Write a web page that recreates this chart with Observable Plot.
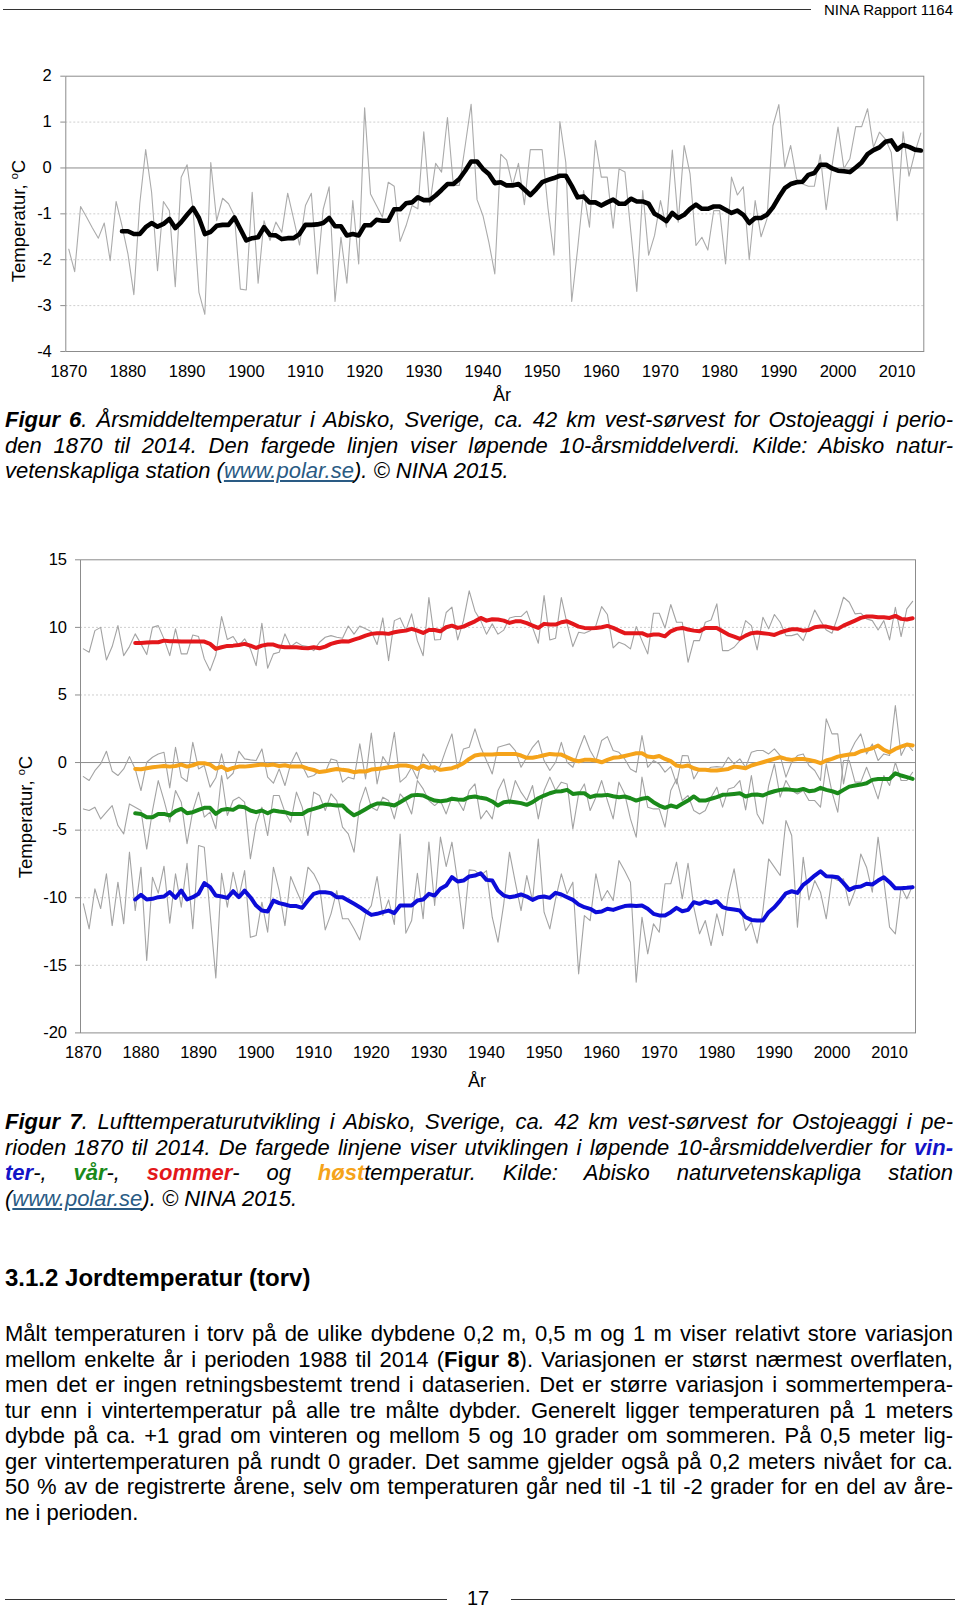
<!DOCTYPE html>
<html><head><meta charset="utf-8">
<script src="https://cdn.jsdelivr.net/npm/d3@7"></script>
<script src="https://cdn.jsdelivr.net/npm/@observablehq/plot@0.6"></script>
<style>
html,body{margin:0;padding:0;background:#fff;}
#page{position:relative;width:960px;height:1610px;overflow:hidden;background:#fff;font-family:'Liberation Sans',Arial,Helvetica,sans-serif;color:#000;}
.abs{position:absolute;}
.para{position:absolute;left:5px;width:948px;font-size:22px;line-height:25.5px;}
.para .l{text-align:justify;text-align-last:justify;height:25.5px;}
.para .l.last{text-align-last:left;}
.cap{font-style:italic;}
.lnk{color:#2a5b84;text-decoration:underline;}
.ytitle{position:absolute;white-space:nowrap;font-size:18.5px;transform:translate(-50%,-50%) rotate(-90deg);}
.ytitle sup{font-size:11px;vertical-align:7px;}
.xtitle{position:absolute;font-size:18px;transform:translate(-50%,-50%);}
svg g[aria-label="y-axis tick"] path, svg g[aria-label="y-axis"] .tick line{stroke:#8c8c8c;}
</style>
</head><body>
<div id="page">
  <div class="abs" style="left:3px;top:9px;width:808px;border-top:1.6px solid #333;"></div>
  <div class="abs" style="right:7px;top:1px;font-size:15px;line-height:17px;">NINA Rapport 1164</div>

  <div id="c1" class="abs" style="left:0;top:50px;"></div>
  <div class="ytitle" style="left:18.5px;top:221px;">Temperatur, <sup>o</sup>C</div>
  <div class="xtitle" style="left:502px;top:395px;">År</div>

  <div class="para cap" style="top:407px;">
    <div class="l"><b>Figur 6</b>. Årsmiddeltemperatur i Abisko, Sverige, ca. 42 km vest-sørvest for Ostojeaggi i perio-</div>
    <div class="l">den 1870 til 2014. Den fargede linjen viser løpende 10-årsmiddelverdi. Kilde: Abisko natur-</div>
    <div class="l last">vetenskapliga station (<span class="lnk">www.polar.se</span>). © NINA 2015.</div>
  </div>

  <div id="c2" class="abs" style="left:0;top:530px;"></div>
  <div class="ytitle" style="left:26px;top:817px;">Temperatur, <sup>o</sup>C</div>
  <div class="xtitle" style="left:477px;top:1081px;">År</div>

  <div class="para cap" style="top:1109px;">
    <div class="l"><b>Figur 7</b>. Lufttemperaturutvikling i Abisko, Sverige, ca. 42 km vest-sørvest for Ostojeaggi i pe-</div>
    <div class="l">rioden 1870 til 2014. De fargede linjene viser utviklingen i løpende 10-årsmiddelverdier for <b style="color:#1414c8">vin-</b></div>
    <div class="l"><b style="color:#1414c8">ter</b>-, <b style="color:#1a8a1a">vår</b>-, <b style="color:#e3171b">sommer</b>- og <b style="color:#f5a31a">høst</b>temperatur. Kilde: Abisko naturvetenskapliga station</div>
    <div class="l last">(<span class="lnk">www.polar.se</span>). © NINA 2015.</div>
  </div>

  <div class="abs" style="left:5px;top:1264px;font-size:24px;line-height:28px;font-weight:bold;">3.1.2 Jordtemperatur (torv)</div>

  <div class="para" style="top:1321px;">
    <div class="l">Målt temperaturen i torv på de ulike dybdene 0,2 m, 0,5 m og 1 m viser relativt store variasjon</div>
    <div class="l">mellom enkelte år i perioden 1988 til 2014 (<b>Figur 8</b>). Variasjonen er størst nærmest overflaten,</div>
    <div class="l">men det er ingen retningsbestemt trend i dataserien. Det er større variasjon i sommertempera-</div>
    <div class="l">tur enn i vintertemperatur på alle tre målte dybder. Generelt ligger temperaturen på 1 meters</div>
    <div class="l">dybde på ca. +1 grad om vinteren og mellom 5 og 10 grader om sommeren. På 0,5 meter lig-</div>
    <div class="l">ger vintertemperaturen på rundt 0 grader. Det samme gjelder også på 0,2 meters nivået for ca.</div>
    <div class="l">50 % av de registrerte årene, selv om temperaturen går ned til -1 til -2 grader for en del av åre-</div>
    <div class="l last">ne i perioden.</div>
  </div>

  <div class="abs" style="left:5px;top:1599px;width:442px;border-top:1.4px solid #333;"></div>
  <div class="abs" style="left:511px;top:1599px;width:444px;border-top:1.4px solid #333;"></div>
  <div class="abs" style="left:478px;top:1586px;font-size:20px;line-height:24px;transform:translateX(-50%);">17</div>
</div>
<script>
// ---------- shared ----------
const years = d3.range(1870, 2015);       // annual values 1870-2014
const meanYears = d3.range(1879, 2015);   // running 10-year mean 1879-2014
const xTicks = [1870,1880,1890,1900,1910,1920,1930,1940,1950,1960,1970,1980,1990,2000,2010];

// ---------- Figur 6: annual mean temperature ----------
const yTicks1 = [-4,-3,-2,-1,0,1,2];
const grid1 = [-3,-2,-1,1];
const annualMean = [
 -1.77,-2.26,-0.84,-1.07,-1.31,-1.53,-1.2,-2.02,-0.73,-1.26,
 -1.87,-2.76,-0.78,0.40,-0.53,-2.24,-0.73,-0.93,-2.59,-0.2,
 0.07,-0.9,-2.71,-3.19,0.12,-1.15,-0.66,-0.78,-1.04,-2.64,
 -2.66,-0.53,-2.51,-1.15,-1.58,-1.18,-1.4,-0.55,-1.11,-1.68,
 -0.82,-0.55,-2.31,-0.9,-0.41,-2.91,-1.51,-2.51,-0.71,-2.09,
 1.31,-0.57,-0.82,-1.07,-0.31,-0.4,-1.6,-1.26,-0.82,-0.89,
 0.79,-0.81,0.1,-0.09,1.1,-0.38,-0.38,0.49,1.39,-0.69,
 -1.04,-1.62,-2.31,0.3,0.17,-0.38,0.1,-0.8,0.4,0.4,
 0.4,-0.89,-1.9,1.01,0.12,-2.91,-1.76,-0.49,-1.29,0.6,
 -0.2,-0.2,-1.31,-0.02,-0.09,-1.4,-2.69,-0.49,-1.9,-1.47,
 -0.71,-1.29,0.39,-1.18,0.49,-0.13,-1.69,-1.51,-1.79,-0.93,
 -0.93,-2.09,-0.2,-0.59,-0.41,-2.0,-0.71,-1.5,-1.11,0.92,
 1.38,0.01,0.49,-0.24,-0.35,-0.4,-0.4,0.29,-0.91,0.05,
 0.89,-0.01,0.2,0.9,0.9,1.29,0.45,0.78,0.63,0.34,
 -1.15,0.79,-0.18,0.34,0.76];
const annualRun = [
 -1.38,
 -1.38,-1.44,-1.44,-1.29,-1.20,-1.28,-1.22,-1.11,-1.31,-1.18,
 -1.02,-0.87,-1.09,-1.44,-1.39,-1.26,-1.24,-1.24,-1.08,-1.33,
 -1.58,-1.53,-1.51,-1.29,-1.46,-1.47,-1.55,-1.53,-1.53,-1.44,
 -1.24,-1.24,-1.23,-1.2,-1.09,-1.27,-1.27,-1.47,-1.44,-1.47,
 -1.25,-1.25,-1.13,-1.15,-1.15,-0.9,-0.9,-0.77,-0.75,-0.64,
 -0.70,-0.70,-0.60,-0.48,-0.35,-0.35,-0.24,-0.06,0.14,0.14,
 -0.02,-0.13,-0.33,-0.31,-0.38,-0.38,-0.35,-0.47,-0.59,-0.46,
 -0.31,-0.26,-0.22,-0.17,-0.17,-0.39,-0.64,-0.62,-0.75,-0.75,
 -0.82,-0.75,-0.69,-0.78,-0.78,-0.67,-0.73,-0.73,-0.78,-1.0,
 -1.07,-1.16,-0.98,-1.09,-1.02,-0.89,-0.80,-0.89,-0.89,-0.84,
 -0.84,-0.91,-0.98,-0.93,-1.02,-1.2,-1.09,-1.09,-1.02,-0.86,
 -0.64,-0.44,-0.35,-0.31,-0.30,-0.15,-0.11,0.07,0.07,-0.01,
 -0.06,-0.07,-0.09,0.01,0.12,0.30,0.39,0.45,0.57,0.60,
 0.40,0.50,0.46,0.40,0.38];

// ---------- Figur 7: seasonal temperatures ----------
const yTicks2 = [-20,-15,-10,-5,0,5,10,15];
const grid2 = [-15,-10,-5,5,10];
const summer = [
 8.41,8.16,9.76,10.0,7.59,8.58,10.13,7.91,8.58,9.52,
 8.78,7.99,10.0,10.13,9.15,7.91,9.89,8.04,8.04,9.44,
 9.32,7.67,6.8,7.96,10.8,9.1,9.32,8.65,9.15,8.41,
 7.17,10.31,6.98,8.04,8.16,9.52,8.58,8.9,8.65,8.58,
 8.28,8.9,9.27,9.39,9.27,9.2,10.1,9.5,10.1,9.9,
 9.7,8.73,10.7,7.54,10.5,10.7,9.76,11.0,9.0,7.9,
 12.2,9.07,9.1,11.1,11.5,9.07,10.5,12.7,11.2,10.5,
 9.5,10.26,9.5,9.8,10.7,10.8,10.8,11.2,10.0,8.83,
 12.35,9.07,9.2,12.2,10.26,8.58,9.64,9.57,9.76,10.13,
 11.54,10.95,8.48,8.9,8.73,8.41,10.06,9.02,8.04,11.05,
 11.05,9.96,11.69,10.38,10.38,7.42,9.02,9.02,10.38,10.55,
 11.74,8.28,8.28,8.53,9.02,10.5,10.13,8.33,10.75,9.89,
 10.95,10.38,9.39,9.39,9.52,9.02,10.13,11.29,10.5,9.81,
 9.57,10.8,12.23,11.86,11.0,11.05,10.63,10.5,9.81,10.5,
 9.07,11.49,9.32,11.37,11.93];
const summerRun = [
 8.85,
 8.85,8.88,8.9,8.9,9.02,8.98,8.98,8.95,8.95,8.95,
 8.95,8.95,8.78,8.41,8.53,8.63,8.65,8.7,8.78,8.65,
 8.48,8.65,8.73,8.73,8.58,8.53,8.53,8.53,8.48,8.46,
 8.53,8.46,8.58,8.78,8.9,8.97,8.95,9.1,9.22,9.39,
 9.52,9.57,9.57,9.52,9.64,9.71,9.76,9.89,9.76,9.59,
 9.81,9.81,9.71,10.01,10.13,9.96,10.06,10.26,10.45,10.7,
 10.5,10.6,10.58,10.5,10.33,10.45,10.45,10.31,10.13,9.96,
 10.26,10.21,10.21,10.38,10.45,10.26,10.06,9.96,9.94,9.96,
 10.01,10.11,9.96,9.76,9.57,9.57,9.57,9.57,9.39,9.47,
 9.47,9.34,9.71,9.89,9.96,9.84,9.76,9.71,9.96,9.96,
 9.96,9.71,9.47,9.32,9.15,9.39,9.57,9.62,9.57,9.52,
 9.44,9.62,9.76,9.86,9.86,9.76,9.81,10.01,10.06,10.06,
 9.96,9.89,10.13,10.31,10.5,10.7,10.8,10.8,10.75,10.75,
 10.7,10.85,10.63,10.58,10.68];
const autumn = [
 -1.04,-1.33,-0.6,-0.1,0.84,-0.64,-0.96,-0.47,0.44,-0.47,
 -2.07,0.02,0.39,0.64,0.76,-1.87,1.13,-1.08,-1.4,1.5,
 -0.47,-0.22,-1.82,-1.13,0.64,-1.21,-0.79,0.84,0.27,0.2,
 0.15,1.01,-1.08,-1.53,-0.47,-1.7,-0.1,0.76,-0.22,-1.08,
 -0.96,-0.59,-0.72,0.27,0.15,-1.45,-1.08,-1.21,1.38,-1.21,
 2.19,-1.58,0.44,-0.22,2.24,-1.45,-1.08,-0.35,-1.21,0.64,
 0.02,-0.71,-0.22,1.01,2.12,-0.47,1.01,1.13,2.49,1.13,
 0.15,-0.84,1.13,1.26,1.38,0.89,-0.35,0.39,1.13,1.63,
 0.15,-0.59,0.02,1.5,0.02,-0.35,0.89,2.0,0.89,0.15,
 1.63,1.92,0.89,0.76,0.27,-0.47,-0.71,2.0,-0.35,0.15,
 -0.1,-0.71,-0.3,-1.58,0.52,0.5,-1.21,-0.47,-0.59,-0.35,
 -0.3,-0.35,0.39,-0.1,0.27,-0.35,0.76,0.89,0.89,0.64,
 1.01,0.52,-1.08,0.02,0.52,0.64,-0.22,-0.59,-1.33,3.23,
 2.12,2.12,-1.58,0.64,1.5,2.12,0.64,1.38,0.15,0.64,
 0.52,4.22,0.52,1.38,0.89];
const autumnRun = [
 -0.47,
 -0.5,-0.42,-0.35,-0.3,-0.25,-0.3,-0.25,-0.15,-0.3,-0.2,
 -0.05,-0.05,-0.15,-0.45,-0.3,-0.55,-0.4,-0.3,-0.3,-0.25,
 -0.2,-0.15,-0.2,-0.15,-0.25,-0.2,-0.3,-0.3,-0.3,-0.45,
 -0.55,-0.7,-0.65,-0.55,-0.48,-0.54,-0.59,-0.71,-0.64,-0.66,
 -0.52,-0.47,-0.42,-0.35,-0.3,-0.22,-0.22,-0.3,-0.47,-0.22,
 -0.39,-0.35,-0.54,-0.47,-0.42,-0.27,-0.05,0.27,0.52,0.59,
 0.59,0.59,0.64,0.64,0.64,0.64,0.52,0.35,0.35,0.44,
 0.54,0.64,0.59,0.59,0.39,0.2,0.1,0.2,0.2,0.15,
 0.02,0.2,0.35,0.39,0.49,0.59,0.69,0.69,0.44,0.39,
 0.49,0.27,0.1,-0.22,-0.3,-0.22,-0.42,-0.54,-0.54,-0.59,
 -0.59,-0.54,-0.47,-0.3,-0.35,-0.42,-0.22,-0.1,0.02,0.15,
 0.27,0.39,0.27,0.2,0.27,0.27,0.2,0.1,-0.05,0.15,
 0.27,0.44,0.52,0.59,0.64,0.84,0.94,1.06,1.26,0.94,
 0.76,1.01,1.18,1.33,1.26];
const spring = [
 -3.43,-3.55,-3.3,-4.17,-3.67,-3.18,-4.66,-5.28,-3.06,-3.3,
 -3.55,-6.4,-3.55,-1.33,-2.8,-4.4,-2.07,-2.93,-6.0,-3.55,
 -2.19,-4.04,-3.67,-4.9,-0.96,-3.92,-2.81,-2.56,-2.93,-7.12,
 -4.54,-3.3,-5.4,-2.44,-2.44,-3.67,-4.41,-2.19,-3.3,-5.4,
 -2.19,-2.44,-3.55,-2.32,-2.81,-4.78,-5.28,-6.63,-3.06,-1.82,
 -3.3,-3.55,-2.56,-2.81,-4.17,-2.32,-2.81,-3.8,-1.33,-1.95,
 -2.81,-3.18,-2.81,-3.8,-2.56,-2.81,-3.55,-2.07,-1.58,-4.17,
 -3.55,-4.17,-2.07,-1.21,-3.06,-1.33,-2.19,-2.81,-1.7,-4.17,
 -2.07,-1.08,-2.07,-1.45,-1.58,-4.91,-2.32,-1.58,-3.55,-2.56,
 -1.33,-2.81,-4.17,-1.45,-2.32,-4.17,-5.52,-1.08,-3.3,-3.43,
 -3.43,-4.78,-2.07,-1.21,-2.81,-2.44,-3.55,-3.8,-3.55,-2.56,
 -1.82,-3.3,-1.95,-1.82,-1.33,-3.5,-0.96,-3.8,-4.54,-1.7,
 -0.1,-2.56,-1.33,-2.07,-2.32,-2.07,-2.81,-2.81,-3.3,-0.1,
 -2.19,-3.67,0.15,0.15,-1.45,-1.45,-0.35,-1.45,-2.69,-0.96,
 -1.7,0.02,-1.33,-1.33,-0.72];
const springRun = [
 -3.75,
 -3.8,-4.04,-4.04,-3.8,-3.8,-3.92,-3.6,-3.43,-3.75,-3.67,
 -3.5,-3.35,-3.35,-3.8,-3.5,-3.43,-3.5,-3.25,-3.3,-3.55,
 -3.67,-3.55,-3.75,-3.55,-3.62,-3.67,-3.8,-3.8,-3.8,-3.55,
 -3.43,-3.3,-3.13,-3.13,-3.18,-3.18,-3.6,-3.9,-3.7,-3.45,
 -3.2,-3.03,-3.03,-3.08,-3.18,-2.93,-2.68,-2.44,-2.39,-2.44,
 -2.64,-2.81,-2.86,-2.81,-2.68,-2.74,-2.76,-2.56,-2.51,-2.61,
 -2.68,-2.88,-3.18,-2.93,-2.88,-2.93,-3.0,-3.13,-2.93,-2.64,
 -2.44,-2.27,-2.15,-2.12,-2.02,-2.32,-2.27,-2.27,-2.56,-2.44,
 -2.44,-2.39,-2.49,-2.56,-2.51,-2.64,-2.81,-2.68,-2.61,-2.93,
 -3.18,-3.35,-3.18,-3.3,-3.05,-2.81,-2.51,-2.81,-2.81,-2.68,
 -2.56,-2.39,-2.37,-2.32,-2.27,-2.51,-2.39,-2.37,-2.44,-2.25,
 -2.12,-2.02,-1.97,-2.02,-2.07,-1.95,-2.12,-2.07,-1.87,-2.02,
 -2.12,-2.27,-2.02,-1.78,-1.7,-1.63,-1.53,-1.28,-1.21,-1.21,
 -1.21,-0.79,-0.96,-1.08,-1.21];
const winter = [
 -10.45,-12.3,-9.34,-10.8,-8.23,-12.06,-8.85,-11.93,-6.63,-10.95,
 -7.74,-14.64,-8.48,-9.66,-7.67,-11.88,-8.23,-10.7,-7.45,-12.3,
 -6.14,-6.26,-11.19,-15.93,-8.19,-10.7,-8.11,-9.96,-7.99,-12.93,
 -12.8,-10.33,-12.55,-7.74,-9.47,-12.06,-8.43,-9.47,-10.45,-7.74,
 -8.23,-9.1,-12.38,-11.19,-9.47,-11.56,-11.56,-12.3,-13.12,-11.19,
 -10.58,-8.43,-11.32,-10.16,-11.98,-5.28,-12.62,-11.69,-8.19,-11.56,
 -5.89,-10.58,-5.52,-7.69,-5.89,-8.85,-12.3,-7.94,-7.99,-8.36,
 -7.99,-11.44,-13.29,-10.45,-6.63,-8.85,-10.95,-8.36,-10.21,-5.65,
 -11.07,-12.3,-10.08,-8.23,-9.71,-8.85,-15.63,-11.32,-11.69,-8.23,
 -10.21,-9.47,-10.21,-7.25,-8.0,-8.85,-16.25,-11.44,-14.15,-11.93,
 -12.55,-8.97,-8.97,-7.37,-10.08,-7.45,-10.7,-12.67,-11.69,-13.54,
 -11.19,-12.8,-9.71,-7.86,-10.45,-12.43,-11.81,-13.36,-10.95,-7.13,
 -7.74,-8.36,-4.29,-5.4,-12.18,-7.0,-10.16,-8.73,-9.59,-11.56,
 -8.48,-8.73,-8.6,-10.58,-9.47,-6.76,-7.74,-9.59,-5.52,-8.73,
 -12.18,-12.67,-9.22,-10.08,-9.1];
const winterRun = [
 -10.13,
 -9.79,-10.13,-10.08,-9.96,-9.91,-9.59,-10.01,-9.47,-10.13,-9.96,
 -9.71,-8.92,-9.22,-9.84,-9.91,-10.01,-9.52,-9.96,-9.47,-9.96,
 -10.58,-10.95,-11.02,-10.21,-10.4,-10.5,-10.62,-10.62,-10.75,-10.21,
 -9.71,-9.59,-9.59,-9.66,-9.96,-9.96,-10.21,-10.45,-10.7,-11.0,
 -11.27,-11.19,-11.07,-10.95,-11.14,-10.58,-10.58,-10.58,-10.21,-10.13,
 -9.71,-9.84,-9.34,-9.1,-8.48,-8.8,-8.73,-8.43,-8.36,-8.19,
 -8.68,-8.73,-9.47,-9.84,-9.96,-9.89,-9.76,-9.91,-10.16,-9.96,
 -9.91,-10.01,-9.64,-9.76,-9.96,-10.16,-10.5,-10.7,-10.82,-11.07,
 -11.02,-10.82,-10.9,-10.75,-10.62,-10.58,-10.62,-10.58,-10.82,-11.19,
 -11.31,-11.31,-11.07,-10.75,-11.0,-10.9,-10.33,-10.45,-10.28,-10.4,
 -10.26,-10.7,-10.82,-10.87,-10.95,-11.44,-11.64,-11.68,-11.68,-11.07,
 -10.7,-10.21,-9.67,-9.52,-9.64,-9.05,-8.73,-8.36,-8.04,-8.41,
 -8.43,-8.48,-8.92,-9.42,-9.22,-9.17,-8.97,-9.02,-8.73,-8.48,
 -8.85,-9.3,-9.3,-9.27,-9.22];

// ---------- drawing ----------
const pts = (ys, vs) => ys.map((y, i) => ({year: y, v: vs[i]}));
const font = "'Liberation Sans', Arial, Helvetica, sans-serif";
const thick = (vs, color, w) => Plot.line(pts(meanYears, vs), {x: "year", y: "v", stroke: color, strokeWidth: w, strokeLinejoin: "round", strokeLinecap: "round"});
const thin = (vs, color) => Plot.line(pts(years, vs), {x: "year", y: "v", stroke: color, strokeWidth: 1.1});

const chart1 = Plot.plot({
  width: 960, height: 360,
  marginLeft: 65.3, marginRight: 36.7, marginTop: 25.7, marginBottom: 59,
  style: {fontFamily: font, fontSize: "16.5px", background: "transparent", color: "#000", overflow: "visible"},
  x: {domain: [1869.5, 2014.5], ticks: xTicks, tickFormat: d => String(d), tickSize: 0, tickPadding: 13.7, label: null},
  y: {domain: [-4, 2], ticks: yTicks1, tickFormat: d => String(d), tickSize: 5, tickPadding: 9, label: null},
  marks: [
    Plot.ruleY(grid1, {stroke: "#cfcfcf", strokeDasharray: "2,2"}),
    Plot.ruleY([0], {stroke: "#8c8c8c"}),
    Plot.frame({stroke: "#8c8c8c"}),
    thin(annualMean, "#ababab"),
    thick(annualRun, "#000000", 4.6)
  ]
});
document.getElementById("c1").appendChild(chart1);

const chart2 = Plot.plot({
  width: 960, height: 540,
  marginLeft: 80, marginRight: 45, marginTop: 29.3, marginBottom: 37.6,
  style: {fontFamily: font, fontSize: "16.5px", background: "transparent", color: "#000", overflow: "visible"},
  x: {domain: [1869.5, 2014.5], ticks: xTicks, tickFormat: d => String(d), tickSize: 0, tickPadding: 13.7, label: null},
  y: {domain: [-20, 15], ticks: yTicks2, tickFormat: d => String(d), tickSize: 5, tickPadding: 8.5, label: null},
  marks: [
    Plot.ruleY(grid2, {stroke: "#cfcfcf", strokeDasharray: "2,2"}),
    Plot.ruleY([0], {stroke: "#8c8c8c"}),
    Plot.frame({stroke: "#8c8c8c"}),
    thin(summer, "#a3a3a3"),
    thin(autumn, "#a3a3a3"),
    thin(spring, "#a3a3a3"),
    thin(winter, "#a3a3a3"),
    thick(winterRun, "#0c0cd8", 4),
    thick(springRun, "#1a8a1a", 4),
    thick(autumnRun, "#f5a31a", 4),
    thick(summerRun, "#e3171b", 4)
  ]
});
document.getElementById("c2").appendChild(chart2);
</script>
</body></html>
